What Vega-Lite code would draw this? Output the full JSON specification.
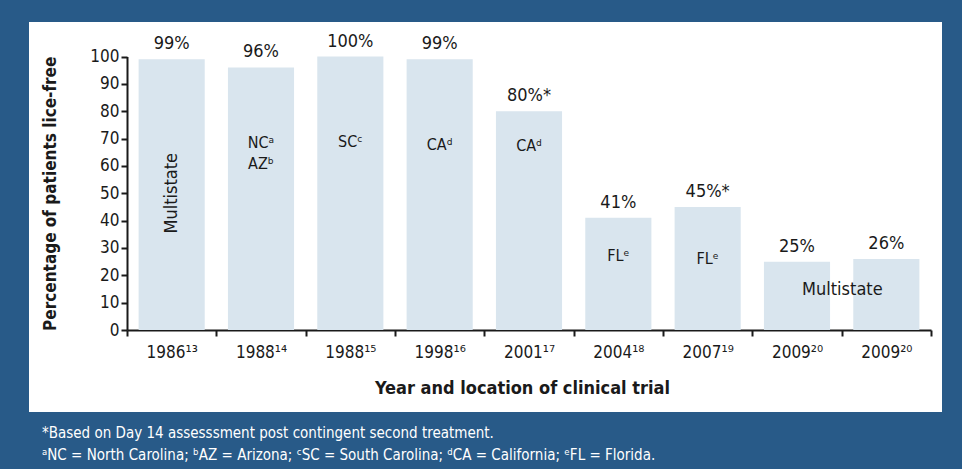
{
  "$schema": "https://vega.github.io/schema/vega-lite/v6.json",
  "width": 913,
  "height": 390,
  "autosize": {"type": "none"},
  "padding": {"left": 29, "top": 22, "right": 20, "bottom": 57},
  "background": "#285a88",
  "config": {
    "view": {"fill": "white", "stroke": null},
    "font": "Liberation Sans Narrow, DejaVu Sans Condensed, sans-serif"
  },
  "title": {
    "text": [
      "*Based on Day 14 assesssment post contingent second treatment.",
      "ᵃNC = North Carolina; ᵇAZ = Arizona; ᶜSC = South Carolina; ᵈCA = California; ᵉFL = Florida."
    ],
    "orient": "bottom",
    "anchor": "start",
    "color": "white",
    "fontSize": 15,
    "fontWeight": "normal",
    "font": "Liberation Sans Narrow, DejaVu Sans Condensed, sans-serif",
    "lineHeight": 22,
    "dx": 13,
    "offset": 14
  },
  "data": {
    "values": [
      {"id": "1986¹³|a", "value": 99, "pct": "99%"},
      {"id": "1988¹⁴|a", "value": 96, "pct": "96%"},
      {"id": "1988¹⁵|a", "value": 100, "pct": "100%"},
      {"id": "1998¹⁶|a", "value": 99, "pct": "99%"},
      {"id": "2001¹⁷|a", "value": 80, "pct": "80%*"},
      {"id": "2004¹⁸|a", "value": 41, "pct": "41%"},
      {"id": "2007¹⁹|a", "value": 45, "pct": "45%*"},
      {"id": "2009²⁰|a", "value": 25, "pct": "25%"},
      {"id": "2009²⁰|b", "value": 26, "pct": "26%"}
    ]
  },
  "encoding": {
    "x": {
      "field": "id",
      "type": "nominal",
      "sort": null,
      "scale": {"range": [98, 902], "paddingInner": 0, "paddingOuter": 0},
      "axis": {
        "title": "Year and location of clinical trial",
        "titleFontSize": 18,
        "titleFontWeight": "bold",
        "titleColor": "#1a1a1a",
        "titlePadding": 19,
        "titleX": 493,
        "labelExpr": "split(datum.label, '|')[0]",
        "labelAngle": 0,
        "labelFontSize": 17,
        "labelColor": "#1a1a1a",
        "labelPadding": 8,
        "tickBand": "extent",
        "tickSize": 6,
        "tickWidth": 2,
        "tickColor": "#1a1a1a",
        "domainColor": "#1a1a1a",
        "domainWidth": 2,
        "offset": -82,
        "grid": false
      }
    },
    "y": {
      "field": "value",
      "type": "quantitative",
      "scale": {"domain": [0, 100], "range": [308, 34.5], "nice": false},
      "axis": {
        "title": "Percentage of patients lice-free",
        "titleFontSize": 17,
        "titleFontWeight": "bold",
        "titleColor": "#1a1a1a",
        "titlePadding": 30,
        "values": [0, 10, 20, 30, 40, 50, 60, 70, 80, 90, 100],
        "labelFontSize": 17,
        "labelColor": "#1a1a1a",
        "labelPadding": 2,
        "tickSize": 6,
        "tickWidth": 2,
        "tickColor": "#1a1a1a",
        "domainColor": "#1a1a1a",
        "domainWidth": 2,
        "offset": -98,
        "grid": false
      }
    }
  },
  "layer": [
    {
      "mark": {"type": "bar", "color": "#d9e5ee", "width": {"band": 0.74}}
    },
    {
      "mark": {"type": "text", "fontSize": 18, "baseline": "alphabetic", "dy": -10, "color": "#1a1a1a"},
      "encoding": {"text": {"field": "pct"}}
    },
    {
      "data": {
        "values": [
          {"id": "1988¹⁴|a", "loc": "NCᵃ\nAZᵇ", "at": 68.5},
          {"id": "1988¹⁵|a", "loc": "SCᶜ", "at": 68.9},
          {"id": "1998¹⁶|a", "loc": "CAᵈ", "at": 67.5},
          {"id": "2001¹⁷|a", "loc": "CAᵈ", "at": 67.3},
          {"id": "2004¹⁸|a", "loc": "FLᵉ", "at": 27.1},
          {"id": "2007¹⁹|a", "loc": "FLᵉ", "at": 26}
        ]
      },
      "mark": {"type": "text", "fontSize": 16, "baseline": "middle", "lineBreak": "\n", "lineHeight": 21, "color": "#1a1a1a"},
      "encoding": {
        "x": {"field": "id", "type": "nominal", "sort": null},
        "y": {"field": "at", "type": "quantitative"},
        "text": {"field": "loc"}
      }
    },
    {
      "data": {"values": [{"id": "1986¹³|a", "loc": "Multistate", "at": 50}]},
      "mark": {"type": "text", "fontSize": 18, "baseline": "middle", "angle": 270, "color": "#1a1a1a"},
      "encoding": {
        "x": {"field": "id", "type": "nominal", "sort": null},
        "y": {"field": "at", "type": "quantitative"},
        "text": {"field": "loc"}
      }
    },
    {
      "data": {"values": [{"id": "2009²⁰|b", "loc": "Multistate", "at": 14.5}]},
      "mark": {"type": "text", "fontSize": 18, "baseline": "middle", "dx": -44, "color": "#1a1a1a"},
      "encoding": {
        "x": {"field": "id", "type": "nominal", "sort": null},
        "y": {"field": "at", "type": "quantitative"},
        "text": {"field": "loc"}
      }
    }
  ]
}
